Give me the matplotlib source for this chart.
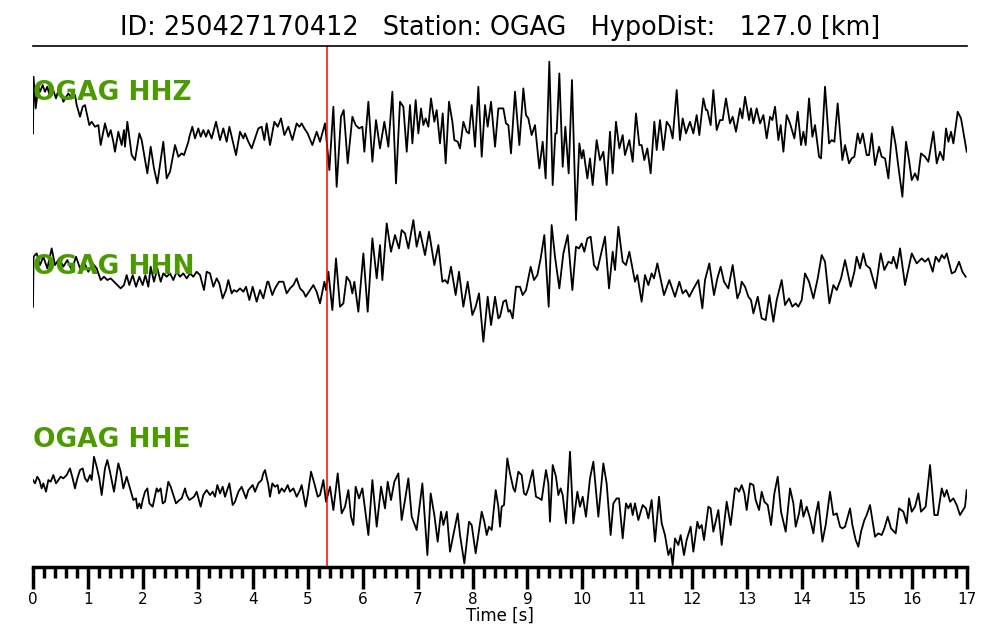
import numpy as np
import matplotlib
matplotlib.use("Agg")
import matplotlib.pyplot as plt
from matplotlib.ticker import MultipleLocator

# event info
event_id = "250427170412"
station = "OGAG"
hypo_dist = 127.0
p_pick = 5.35  # seconds

channels = ["HHZ", "HHN", "HHE"]

# traces: (time [s], amplitude [counts])
hhz = [
    (0.00, -10), (0.01, 160), (0.049, 65), (0.097, 130), (0.127, 115), (0.176, 135),
    (0.218, 115), (0.261, 130), (0.309, 100), (0.358, 125), (0.419, 95), (0.479, 130),
    (0.552, 85), (0.643, 110), (0.704, 95), (0.765, 105), (0.795, 75), (0.856, 40),
    (0.904, 70), (0.946, 75), (1.025, 15), (1.068, 25), (1.128, 10), (1.189, 15),
    (1.232, -45), (1.310, 20), (1.371, -20), (1.414, 0), (1.462, -35), (1.492, -65),
    (1.553, -5), (1.614, -45), (1.656, 0), (1.674, -50), (1.717, 25), (1.796, -75),
    (1.857, -90), (1.935, -10), (1.978, -30), (2.081, -130), (2.142, -50), (2.202, -115),
    (2.263, -160), (2.372, -35), (2.433, -145), (2.494, -125), (2.585, -45), (2.646, -80),
    (2.706, -70), (2.749, -75), (2.828, -35), (2.846, -20), (2.900, 10), (2.949, -25),
    (3.009, 5), (3.052, -20), (3.100, 0), (3.149, -20), (3.191, 0), (3.252, -25),
    (3.331, 25), (3.404, -30), (3.464, 5), (3.525, -35), (3.574, 10), (3.695, -75),
    (3.768, -5), (3.829, -25), (3.859, -10), (3.920, -35), (3.980, -55), (4.102, 5),
    (4.162, 10), (4.211, -30), (4.253, 20), (4.314, -45), (4.393, 25), (4.454, 10),
    (4.514, 35), (4.575, -15), (4.648, 10), (4.721, -30), (4.799, 20), (4.848, 10),
    (4.890, 20), (4.939, 5), (4.999, -10), (5.085, -45), (5.163, -5), (5.224, -35),
    (5.315, 20), (5.394, -120), (5.467, 70), (5.527, -170), (5.606, 40), (5.655, 60),
    (5.728, -100), (5.813, 40), (5.873, 15), (5.934, 5), (5.995, 10), (6.031, -65),
    (6.104, 85), (6.177, -95), (6.243, 30), (6.316, -55), (6.395, 25), (6.468, -50),
    (6.541, 115), (6.607, -160), (6.680, 85), (6.741, 70), (6.802, -65), (6.862, 75),
    (6.905, -40), (6.965, 90), (7.014, -10), (7.062, 65), (7.105, 15), (7.147, 35),
    (7.196, 10), (7.244, 95), (7.305, 25), (7.347, 60), (7.408, -40), (7.457, 50),
    (7.511, -100), (7.572, 85), (7.633, 25), (7.669, -30), (7.730, -35), (7.772, -55),
    (7.833, 25), (7.894, -5), (7.936, -10), (7.985, 75), (8.045, -50), (8.106, 130),
    (8.167, -80), (8.227, 75), (8.276, 10), (8.337, 85), (8.410, -50), (8.470, 65),
    (8.561, 65), (8.609, 20), (8.652, 15), (8.700, -70), (8.773, 115), (8.852, -45),
    (8.925, 125), (8.973, 45), (9.016, 35), (9.076, -15), (9.137, 15), (9.216, -115),
    (9.277, -35), (9.331, -145), (9.398, 205), (9.459, -165), (9.507, -10), (9.531, -10),
    (9.580, 170), (9.641, -110), (9.689, 10), (9.750, -130), (9.810, 150), (9.883, -270),
    (9.944, -40), (9.986, -85), (10.017, -60), (10.090, -145), (10.138, -85), (10.187, -165),
    (10.259, -30), (10.320, -90), (10.381, -65), (10.441, -165), (10.502, -5), (10.551, -130),
    (10.611, 25), (10.672, -55), (10.733, -15), (10.775, -75), (10.854, -30), (10.915, -95),
    (10.975, 50), (11.036, -45), (11.078, -45), (11.127, -90), (11.182, -55), (11.242, -130),
    (11.309, 25), (11.352, -60), (11.412, 30), (11.473, -60), (11.534, 25), (11.594, 10),
    (11.643, -25), (11.716, 120), (11.776, -30), (11.825, 35), (11.885, -10), (11.958, 25),
    (12.019, -10), (12.080, 45), (12.128, -15), (12.201, 95), (12.249, 60), (12.274, 60),
    (12.334, 15), (12.383, 120), (12.444, 0), (12.504, 30), (12.553, 30), (12.613, 95),
    (12.686, 20), (12.735, 40), (12.795, -5), (12.869, 65), (12.911, 35), (12.960, 100),
    (13.033, 30), (13.069, 65), (13.112, 20), (13.172, 65), (13.233, 20), (13.294, 45),
    (13.354, -25), (13.415, 40), (13.458, 30), (13.506, 70), (13.567, -30), (13.609, 15),
    (13.658, -65), (13.718, 45), (13.779, 20), (13.858, -25), (13.919, 55), (13.979, -45),
    (14.022, -5), (14.064, -45), (14.125, 95), (14.186, -20), (14.234, 15), (14.307, -80),
    (14.343, -85), (14.416, 130), (14.489, -40), (14.537, -30), (14.586, -35), (14.646, 80),
    (14.731, -90), (14.780, -45), (14.853, -100), (14.901, -85), (14.950, -80), (15.010, -10),
    (15.053, -40), (15.102, -10), (15.174, -75), (15.217, -75), (15.266, -10), (15.326, -105),
    (15.399, -50), (15.447, -80), (15.508, -85), (15.569, -145), (15.642, 10), (15.702, -45),
    (15.751, -110), (15.824, -200), (15.890, -35), (15.945, -90), (15.994, -150), (16.054, -130),
    (16.103, -150), (16.163, -70), (16.236, -80), (16.297, -95), (16.388, -5), (16.449, -100),
    (16.509, -65), (16.570, -90), (16.618, 5), (16.661, -35), (16.710, -5), (16.752, -40),
    (16.831, 55), (16.891, 35), (16.964, -35), (16.995, -65),
]

hhn = [
    (0.00, -65), (0.01, 85), (0.036, 90), (0.067, 95), (0.127, 60), (0.188, 85),
    (0.261, 50), (0.340, 110), (0.400, 60), (0.479, 80), (0.552, 55), (0.625, 75),
    (0.704, 45), (0.783, 85), (0.856, 50), (0.928, 70), (1.007, 40), (1.086, 65),
    (1.159, 50), (1.232, 15), (1.292, 25), (1.353, 15), (1.414, 20), (1.474, 10),
    (1.535, 0), (1.596, -10), (1.656, 0), (1.705, 30), (1.753, 0), (1.814, 30),
    (1.875, -5), (1.935, 25), (1.996, 0), (2.045, 30), (2.099, -5), (2.142, 55),
    (2.202, 10), (2.263, 50), (2.324, 10), (2.372, 35), (2.433, 25), (2.494, 35),
    (2.554, 15), (2.615, 40), (2.676, 25), (2.736, 35), (2.797, 20), (2.858, 35),
    (2.918, 25), (2.979, 40), (3.040, 30), (3.112, -15), (3.161, 40), (3.222, 35),
    (3.282, -5), (3.343, 20), (3.391, 5), (3.452, -40), (3.513, -15), (3.555, 15),
    (3.616, -25), (3.658, -15), (3.707, -20), (3.768, -10), (3.829, -20), (3.877, -5),
    (3.938, -45), (3.998, -5), (4.071, -50), (4.132, -15), (4.192, -40), (4.265, 10),
    (4.284, 10), (4.356, -30), (4.405, -10), (4.478, 10), (4.557, 10), (4.617, -25),
    (4.678, -10), (4.739, 0), (4.799, 20), (4.860, -10), (4.921, -20), (4.963, -35),
    (5.024, -20), (5.103, 0), (5.163, -20), (5.224, -55), (5.303, 10), (5.333, -15),
    (5.376, 40), (5.449, -75), (5.515, 80), (5.588, -65), (5.649, -55), (5.709, 25),
    (5.770, 10), (5.813, -25), (5.849, 10), (5.922, -80), (6.013, 95), (6.092, -80),
    (6.177, 140), (6.256, 20), (6.316, 120), (6.359, 15), (6.438, 185), (6.516, 100),
    (6.589, 150), (6.662, 110), (6.710, 165), (6.771, 155), (6.832, 110), (6.923, 195),
    (6.983, 115), (7.044, 160), (7.135, 90), (7.208, 160), (7.305, 60), (7.378, 120),
    (7.451, 10), (7.499, 15), (7.548, 5), (7.608, 55), (7.693, -30), (7.754, 40),
    (7.833, -65), (7.912, 10), (7.997, -90), (8.057, -65), (8.118, -25), (8.197, -170),
    (8.276, -35), (8.337, -120), (8.410, -35), (8.470, -100), (8.500, -95), (8.561, -50),
    (8.609, -45), (8.652, -80), (8.682, -75), (8.731, -100), (8.791, -5), (8.864, -5),
    (8.913, -30), (8.973, -15), (9.058, 55), (9.119, 15), (9.180, 30), (9.240, 80),
    (9.307, 150), (9.386, -65), (9.440, 180), (9.501, 85), (9.580, -10), (9.653, 95),
    (9.732, 150), (9.817, -15), (9.883, 115), (9.938, 110), (9.986, 125), (10.035, 100),
    (10.090, 140), (10.150, 145), (10.211, 60), (10.272, 45), (10.411, 145), (10.484, -10),
    (10.551, 100), (10.593, 45), (10.654, 175), (10.733, 70), (10.793, 60), (10.854, 100),
    (10.957, 10), (11.000, 30), (11.078, -50), (11.139, 30), (11.200, 0), (11.260, 35),
    (11.303, 20), (11.364, 65), (11.485, -30), (11.582, 15), (11.685, -35), (11.764, 10),
    (11.825, -25), (11.885, -15), (11.946, -35), (12.007, -15), (12.110, 15), (12.183, -70),
    (12.231, 15), (12.310, 65), (12.395, -30), (12.456, 20), (12.516, 55), (12.577, 10),
    (12.656, -10), (12.735, 60), (12.820, -40), (12.868, -20), (12.899, 10), (12.960, -5),
    (13.021, -35), (13.069, -45), (13.112, -85), (13.191, -35), (13.263, -100), (13.336, -105),
    (13.403, -30), (13.476, -110), (13.536, -45), (13.627, 15), (13.688, -60), (13.761, -40),
    (13.821, -65), (13.882, -55), (13.930, -65), (13.991, -45), (14.052, 35), (14.125, 10),
    (14.204, -40), (14.283, 20), (14.355, 90), (14.416, 70), (14.495, -55), (14.568, 0),
    (14.629, -15), (14.707, 20), (14.780, 75), (14.883, -5), (14.950, 40), (14.992, 85),
    (15.053, 50), (15.114, 95), (15.163, 60), (15.235, 50), (15.338, -10), (15.429, 95),
    (15.496, 45), (15.569, 70), (15.630, 65), (15.660, 85), (15.721, 50), (15.781, 110),
    (15.872, 0), (15.994, 95), (16.085, 65), (16.175, 80), (16.236, 70), (16.297, 80),
    (16.376, 40), (16.430, 85), (16.491, 70), (16.540, 90), (16.588, 80), (16.631, 95),
    (16.722, 35), (16.782, 40), (16.855, 70), (16.916, 40), (16.976, 25),
]

hhe = [
    (0.00, 45), (0.036, 35), (0.079, 55), (0.115, 45), (0.158, 20), (0.188, 35),
    (0.237, 10), (0.279, 45), (0.322, 40), (0.370, 60), (0.419, 35), (0.461, 45),
    (0.504, 55), (0.552, 50), (0.613, 60), (0.673, 80), (0.722, 50), (0.764, 20),
    (0.807, 50), (0.856, 75), (0.904, 80), (0.946, 50), (0.989, 40), (1.037, 60),
    (1.068, 45), (1.110, 115), (1.159, 85), (1.207, 50), (1.250, 0), (1.310, 80),
    (1.353, 105), (1.401, 70), (1.474, 10), (1.553, 95), (1.596, 70), (1.644, 20),
    (1.705, 55), (1.765, 20), (1.826, -15), (1.875, -10), (1.899, -40), (1.935, -25),
    (1.966, -40), (1.996, -15), (2.039, 10), (2.081, 20), (2.118, -25), (2.178, -35),
    (2.251, 20), (2.281, 10), (2.324, 20), (2.360, -25), (2.403, -20), (2.463, 40),
    (2.506, 25), (2.554, 0), (2.603, -25), (2.664, -15), (2.706, -10), (2.767, 20),
    (2.797, 0), (2.846, -15), (2.888, -10), (2.931, -5), (2.979, 10), (3.052, -35),
    (3.100, 0), (3.161, 15), (3.222, 0), (3.270, 10), (3.313, -5), (3.355, 30),
    (3.404, 5), (3.452, 25), (3.495, -5), (3.574, 35), (3.634, -30), (3.677, -20),
    (3.738, 10), (3.798, 25), (3.877, -10), (3.920, 15), (3.998, 30), (4.041, 10),
    (4.102, 35), (4.162, 45), (4.192, 65), (4.223, 75), (4.284, 30), (4.314, -5),
    (4.356, 35), (4.405, 25), (4.454, 30), (4.478, 5), (4.527, 20), (4.575, 10),
    (4.636, 30), (4.678, 10), (4.739, 20), (4.799, -5), (4.860, 15), (4.890, 30),
    (4.963, -35), (5.000, 0), (5.060, 70), (5.121, 35), (5.182, -5), (5.224, 0),
    (5.285, 45), (5.333, -20), (5.406, 25), (5.467, -45), (5.546, 65), (5.618, -55),
    (5.679, -35), (5.740, 15), (5.788, -65), (5.831, -90), (5.873, 25), (5.934, -10),
    (5.995, 20), (6.104, -120), (6.177, 45), (6.256, -95), (6.335, 25), (6.407, -40),
    (6.456, 40), (6.516, -15), (6.577, 40), (6.650, 65), (6.710, -75), (6.771, -15),
    (6.832, 50), (6.893, -65), (6.983, -105), (7.087, 35), (7.178, -180), (7.238, 5),
    (7.305, -60), (7.366, -140), (7.426, -50), (7.469, -90), (7.530, -50), (7.590, -170),
    (7.669, -105), (7.730, -55), (7.772, -120), (7.851, -205), (7.936, -80), (7.985, -90),
    (8.057, -175), (8.167, -50), (8.215, -80), (8.258, -120), (8.300, -95), (8.349, -105),
    (8.422, 15), (8.470, -35), (8.500, -95), (8.530, -35), (8.573, -30), (8.633, 110),
    (8.682, 65), (8.743, 20), (8.773, 10), (8.834, 70), (8.894, 60), (8.937, 5),
    (8.973, 0), (9.016, 20), (9.095, 75), (9.155, -5), (9.216, -10), (9.258, -15),
    (9.337, 75), (9.380, 35), (9.410, -80), (9.459, 90), (9.519, 55), (9.562, 0),
    (9.604, 20), (9.641, 0), (9.701, -85), (9.774, 130), (9.835, -85), (9.908, 10),
    (9.956, -35), (10.005, -5), (10.065, -65), (10.138, 50), (10.199, 100), (10.290, -65),
    (10.381, 95), (10.441, 35), (10.514, -120), (10.563, -25), (10.623, -10), (10.666, -10),
    (10.733, -130), (10.793, -25), (10.836, -40), (10.878, -25), (10.915, -60), (10.957, -25),
    (11.018, -75), (11.097, -30), (11.157, -40), (11.200, -70), (11.260, -15), (11.321, -140),
    (11.394, -5), (11.443, -85), (11.503, -120), (11.564, -180), (11.606, -160), (11.643, -210),
    (11.685, -130), (11.746, -150), (11.788, -120), (11.849, -180), (11.897, -135), (11.970, -95),
    (12.019, -170), (12.092, -80), (12.128, -100), (12.171, -90), (12.213, -135), (12.292, -35),
    (12.334, -40), (12.383, -110), (12.474, -45), (12.535, -150), (12.626, -20), (12.698, -90),
    (12.777, 20), (12.808, 20), (12.851, 10), (12.899, 30), (12.948, 5), (12.990, -45),
    (13.051, 35), (13.112, 30), (13.154, -15), (13.215, -45), (13.263, 10), (13.312, -20),
    (13.373, -30), (13.433, -90), (13.494, 5), (13.555, 55), (13.615, -50), (13.700, -110),
    (13.779, 20), (13.840, -25), (13.882, -95), (13.943, -55), (13.979, -15), (14.022, -65),
    (14.082, -35), (14.143, -70), (14.204, -115), (14.246, -60), (14.295, -20), (14.368, -140),
    (14.428, -90), (14.507, 10), (14.568, -60), (14.629, -55), (14.689, -95), (14.731, -100),
    (14.780, -95), (14.871, -40), (14.914, -90), (14.974, -135), (15.023, -155), (15.071, -110),
    (15.132, -75), (15.174, -60), (15.235, -30), (15.326, -125), (15.386, -115), (15.447, -120),
    (15.496, -100), (15.557, -65), (15.617, -100), (15.702, -115), (15.763, -40), (15.842, -50),
    (15.902, -85), (15.945, -10), (15.994, -50), (16.054, -35), (16.115, 5), (16.163, -50),
    (16.248, -35), (16.327, 90), (16.406, -60), (16.467, -60), (16.540, 20), (16.588, -5),
    (16.631, 15), (16.692, -20), (16.752, -10), (16.813, -30), (16.873, -60), (16.964, -35),
    (16.995, 15),
]

traces = [hhz, hhn, hhe]
offsets = [-252, -717, -1347]     # vertical placement of each trace
label_y = [-162, -683, -1202]     # baseline of the channel labels

fig = plt.figure(figsize=(10, 6.4), dpi=100)
ax = fig.add_axes([0.033, 0.114, 0.934, 0.814])

for tr, off in zip(traces, offsets):
    t = np.array([p[0] for p in tr])
    a = np.array([p[1] for p in tr])
    ax.plot(t, a + off, color="black", lw=1.3, solid_joinstyle="round")

for ch, ly in zip(channels, label_y):
    ax.text(0.0, ly, station + " " + ch, color="#4a9a00", fontsize=19,
            fontweight="bold", ha="left", va="baseline")

ax.axvline(p_pick, color="red", lw=1.1)

ax.set_xlim(0, 17)
ax.set_ylim(-1563, 0)
ax.set_yticks([])
for s in ["left", "right"]:
    ax.spines[s].set_visible(False)
ax.spines["top"].set_linewidth(1.2)
ax.spines["bottom"].set_linewidth(2.5)
ax.xaxis.set_major_locator(MultipleLocator(1))
ax.xaxis.set_minor_locator(MultipleLocator(0.2))
ax.tick_params(axis="x", which="major", length=16, width=2.5, labelsize=11, pad=2)
ax.tick_params(axis="x", which="minor", length=8, width=2.5)
ax.set_xlabel("Time [s]", fontsize=12, labelpad=0)

ax.set_title("ID: %s   Station: %s   HypoDist:   %.1f [km]" % (event_id, station, hypo_dist),
             fontsize=18.4, pad=8)

fig.savefig("out.png", dpi=100)
